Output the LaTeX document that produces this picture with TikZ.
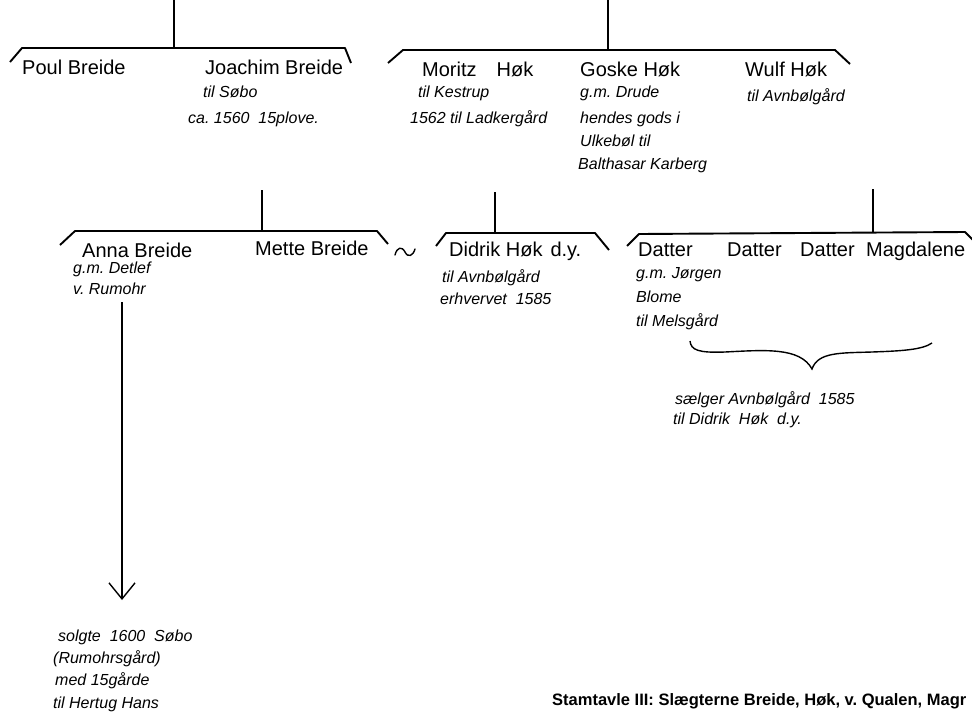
\documentclass[tikz,border=0pt]{standalone}
\usepackage{fontspec}
\setmainfont{Liberation Sans}
\usetikzlibrary{arrows.meta}
\frenchspacing
\tikzset{
  pname/.style={font=\fontsize{20}{24}\selectfont, anchor=base west, inner sep=0pt},
  pnote/.style={font=\fontsize{16}{19}\selectfont\itshape, anchor=base west, inner sep=0pt},
  bar/.style={line width=1.9pt, line join=round},
  stem/.style={line width=1.4pt},
  capt/.style={font=\fontsize{16.5}{19}\selectfont\bfseries, anchor=base west, inner sep=0pt}
}
\begin{document}
\begin{tikzpicture}[x=1pt,y=-1pt]
\useasboundingbox (0,0) rectangle (972,713);
% ---- top left family
\coordinate (tlTop) at (174,0);
\coordinate (tlMid) at (174,48);
\coordinate (tlA) at (10,62);
\coordinate (tlB) at (22,48);
\coordinate (tlC) at (345,48);
\coordinate (tlD) at (351,63);
\draw[stem] (tlTop) -- (tlMid);
\draw[bar] (tlA) -- (tlB) -- (tlC) -- (tlD);
\node[pname] (poul) at (22,74) {Poul Breide};
\node[pname] (joachim) at (205,74) {Joachim Breide};
\node[pnote] (j1) at (203,97.5) {til Søbo};
\node[pnote] (j2) at (188,123.5) {ca.~1560 \ 15plove.};
% ---- top right family
\coordinate (trTop) at (608,0);
\coordinate (trMid) at (608,50);
\coordinate (trA) at (388,63);
\coordinate (trB) at (403,50);
\coordinate (trC) at (835,50);
\coordinate (trD) at (850,64);
\draw[stem] (trTop) -- (trMid);
\draw[bar] (trA) -- (trB) -- (trC) -- (trD);
\node[pname] (moritz) at (422,76) {Moritz\hspace{20pt}Høk};
\node[pnote] (m1) at (418,97.5) {til Kestrup};
\node[pnote] (m2) at (410,123.5) {1562 til Ladkergård};
\node[pname] (goske) at (580,76) {Goske Høk};
\node[pnote] (g1) at (580,97.5) {g.m. Drude};
\node[pnote] (g2) at (580,123.5) {hendes gods i};
\node[pnote] (g3) at (580,146.5) {Ulkebøl til};
\node[pnote] (g4) at (578,169.5) {Balthasar Karberg};
\node[pname] (wulf) at (745,76) {Wulf Høk};
\node[pnote] (w1) at (747,101) {til Avnbølgård};
% ---- Breide children
\coordinate (blTop) at (262,190);
\coordinate (blMid) at (262,231);
\coordinate (blA) at (60,245);
\coordinate (blB) at (75,231);
\coordinate (blC) at (377,231);
\coordinate (blD) at (388,244);
\draw[stem] (blTop) -- (blMid);
\draw[bar] (blA) -- (blB) -- (blC) -- (blD);
\node[pname] (anna) at (82,257) {Anna Breide};
\node[pname] (mette) at (255,255) {Mette Breide};
\node[pnote] (a1) at (73,273) {g.m. Detlef};
\node[pnote] (a2) at (73,294) {v. Rumohr};
% tilde (marriage sign)
\coordinate (tlL) at (395,255);
\coordinate (tlR) at (415,249);
\draw[stem, line cap=round] (tlL) .. controls (397,247) and (402,246) .. (405,252)
  .. controls (408,258) and (413,256) .. (tlR);
% ---- Didrik
\coordinate (dTop) at (495,192);
\coordinate (dMid) at (495,233);
\coordinate (dA) at (436,246);
\coordinate (dB) at (446,233);
\coordinate (dC) at (595,233);
\coordinate (dD) at (609,250);
\draw[stem] (dTop) -- (dMid);
\draw[bar] (dA) -- (dB) -- (dC) -- (dD);
\node[pname] (didrik) at (449,256) {Didrik Høk\hspace{8pt}d.y.};
\node[pnote] (d1) at (442,282) {til Avnbølgård};
\node[pnote] (d2) at (440,304) {erhvervet \ 1585};
% ---- Daughters
\coordinate (qTop) at (873,189);
\coordinate (qMid) at (873,233);
\coordinate (qA) at (627,246);
\coordinate (qB) at (639,234);
\coordinate (qC) at (965,232);
\coordinate (qD) at (975,242);
\draw[stem] (qTop) -- (qMid);
\draw[bar] (qA) -- (qB) -- (qC) -- (qD);
\node[pname] (dat1) at (638,256) {Datter};
\node[pname] (dat2) at (727,256) {Datter};
\node[pname] (dat3) at (800,256) {Datter};
\node[pname] (magd) at (866,256) {Magdalene};
\node[pnote] (q1) at (636,278) {g.m. Jørgen};
\node[pnote] (q2) at (636,302) {Blome};
\node[pnote] (q3) at (636,326) {til Melsgård};
% brace
\coordinate (brL) at (690,341);
\coordinate (brT) at (812,369);
\coordinate (brR) at (932,343);
\draw[stem] (brL) .. controls (691,350) and (698,353) .. (725,352)
  .. controls (765,350) and (800,347) .. (brT)
  .. controls (818,352) and (840,353) .. (872,352)
  .. controls (900,351) and (922,350) .. (brR);
\node[pnote] (s1) at (675,404) {sælger Avnbølgård \ 1585};
\node[pnote] (s2) at (673,424) {til Didrik \ Høk \ d.y.};
% ---- arrow
\coordinate (arTop) at (122,302);
\coordinate (arEnd) at (122,600);
\draw[stem, -{Straight Barb[length=16pt,width=26pt,line width=1.4pt]}] (arTop) -- (arEnd);
\node[pnote] (b1) at (58,641) {solgte \ 1600 \ Søbo};
\node[pnote] (b2) at (53,663) {(Rumohrsgård)};
\node[pnote] (b3) at (55,685) {med 15gårde};
\node[pnote] (b4) at (53,708) {til Hertug Hans};
% ---- caption
\node[capt] (cap) at (552,705) {Stamtavle III: Slægterne Breide, Høk, v. Qualen, Magr};
\end{tikzpicture}
\end{document}
